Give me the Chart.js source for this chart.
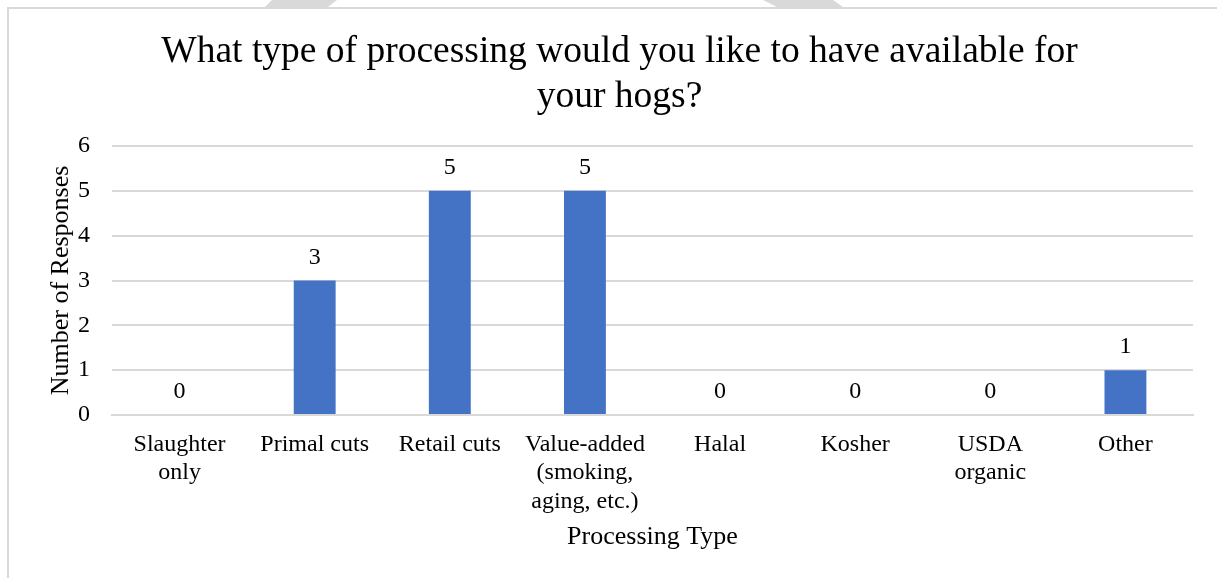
<!DOCTYPE html>
<html>
<head>
<meta charset="utf-8">
<script src="https://cdn.jsdelivr.net/npm/chart.js@4"></script>
<style>
  html, body { margin: 0; padding: 0; background: #fff; overflow: hidden; }
  #frame { position: absolute; left: 7px; top: 7px; width: 1400px; height: 800px; border-left: 2px solid #d9d9d9; border-top: 2px solid #d9d9d9; }
  .wm { position: absolute; top: 0; height: 7px; background: #d9d9d9; }
  #wm1 { left: 265px; width: 72px; clip-path: polygon(7px 0, 72px 0, 63px 100%, 0 100%); }
  #wm2 { left: 763px; width: 80px; clip-path: polygon(0 0, 70px 0, 80px 100%, 14px 100%); }
  #wrap { position: absolute; left: 0; top: 0; width: 1217px; height: 578px; }
</style>
</head>
<body>
<div class="wm" id="wm1"></div>
<div class="wm" id="wm2"></div>
<div id="frame"></div>
<div id="wrap"><canvas id="c" width="1217" height="578"></canvas></div>
<script>
const categories = [
  ["Slaughter", "only"],
  "Primal cuts",
  "Retail cuts",
  ["Value-added", "(smoking,", "aging, etc.)"],
  "Halal",
  "Kosher",
  ["USDA", "organic"],
  "Other"
];
const responses = [0, 3, 5, 5, 0, 0, 0, 1];
const titleLines = ["What type of processing would you like to have available for", "your hogs?"];
const yTitle = "Number of Responses";
const xTitle = "Processing Type";

const FONT = "'Liberation Serif', 'Times New Roman', serif";

const valueLabels = {
  id: 'valueLabels',
  afterDatasetsDraw(chart) {
    const ctx = chart.ctx;
    const meta = chart.getDatasetMeta(0);
    ctx.save();
    ctx.font = "24px " + FONT;
    ctx.fillStyle = "#000";
    ctx.textAlign = "center";
    ctx.textBaseline = "middle";
    meta.data.forEach((bar, i) => {
      ctx.fillText(String(responses[i]), bar.x, bar.y - 23);
    });
    ctx.restore();
  }
};

new Chart(document.getElementById('c'), {
  type: 'bar',
  data: {
    labels: categories,
    datasets: [{
      data: responses,
      backgroundColor: '#4472c4',
      borderWidth: 0,
      barPercentage: 0.62,
      categoryPercentage: 0.5
    }]
  },
  options: {
    responsive: false,
    animation: false,
    devicePixelRatio: 1,
    layout: { padding: { left: 46, right: 24, top: 30, bottom: 25 } },
    plugins: {
      legend: { display: false },
      tooltip: { enabled: false },
      title: {
        display: true,
        text: titleLines,
        color: '#000',
        font: { family: FONT, size: 37.5, weight: 'normal', lineHeight: 1.2 },
        padding: { top: 0, bottom: 26 }
      }
    },
    scales: {
      x: {
        afterFit(scale) { scale.height = 138; },
        grid: { display: false, drawTicks: false },
        border: { display: true, color: '#d9d9d9', width: 2 },
        ticks: {
          color: '#000',
          font: { family: FONT, size: 24, lineHeight: 1.19 },
          maxRotation: 0,
          autoSkip: false,
          padding: 15
        },
        title: {
          display: true,
          text: xTitle,
          color: '#000',
          font: { family: FONT, size: 26 },
          padding: { top: 0, bottom: 0 }
        }
      },
      y: {
        afterFit(scale) { scale.width = 66; },
        min: 0,
        max: 6,
        ticks: {
          stepSize: 1,
          color: '#000',
          font: { family: FONT, size: 24 },
          padding: 22
        },
        grid: { color: '#d9d9d9', lineWidth: 2, drawTicks: false },
        border: { display: false },
        title: {
          display: true,
          text: yTitle,
          color: '#000',
          font: { family: FONT, size: 26 },
          padding: { top: 0, bottom: 2 }
        }
      }
    }
  },
  plugins: [valueLabels]
});
</script>
</body>
</html>
